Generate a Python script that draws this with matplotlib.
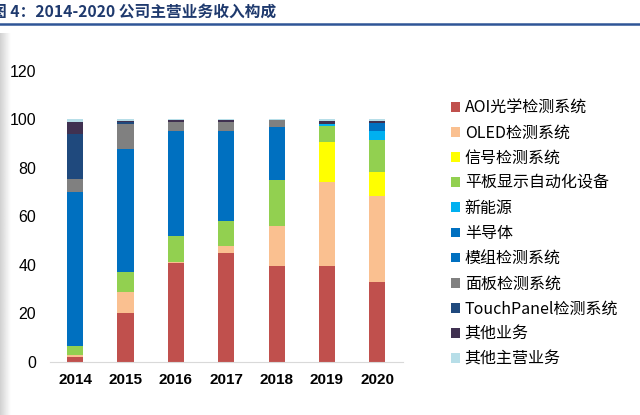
import matplotlib
matplotlib.use("Agg")
import matplotlib.pyplot as plt
import numpy as np

plt.rcParams['font.family'] = ['Noto Sans CJK SC', 'DejaVu Sans']

years = ["2014", "2015", "2016", "2017", "2018", "2019", "2020"]

categories = ["AOI光学检测系统", "OLED检测系统", "信号检测系统", "平板显示自动化设备",
              "新能源", "半导体", "模组检测系统", "面板检测系统",
              "TouchPanel检测系统", "其他业务", "其他主营业务"]

aoi = [2.0, 20.2, 40.7, 45.0, 39.4, 39.4, 32.9]
oled = [1.0, 8.6, 0.5, 2.7, 16.7, 34.8, 35.4]
signal = [0, 0, 0, 0, 0, 16.3, 9.9]
flat_panel = [3.7, 8.1, 10.7, 10.2, 18.9, 6.5, 13.0]
new_energy = [0, 0, 0, 0, 0, 0.8, 3.8]
semi = [0, 0, 0, 0, 0, 0, 3.3]
module = [63.4, 50.9, 43.2, 37.0, 21.7, 0, 0]
panel = [5.4, 10.3, 3.6, 4.1, 2.8, 0, 0]
touch = [18.4, 0.6, 0, 0, 0, 0, 0]
other = [5.0, 0.7, 1.0, 0.7, 0.3, 1.4, 1.0]
other_main = [1.1, 0.6, 0.3, 0.3, 0.2, 0.8, 0.7]

series = [aoi, oled, signal, flat_panel, new_energy, semi, module, panel, touch, other, other_main]
colors = ["#C0504D", "#FAC090", "#FFFF00", "#92D050", "#00B0F0", "#0070C0",
          "#0070C0", "#808080", "#1F497D", "#403151", "#B7DEE8"]

fig = plt.figure(figsize=(6.4, 4.15), dpi=100)

# grey shading on the left edge (behind everything)
edge = fig.add_axes([0, 0, 0.016, 0.92])
edge.imshow(np.linspace(0.82, 1.0, 50).reshape(1, -1), cmap='gray', vmin=0, vmax=1,
            aspect='auto', extent=[0, 1, 0, 1])
edge.axis('off')
edge.set_zorder(-5)

ax = fig.add_axes([0.078, 0.128, 0.551, 0.702])
ax.patch.set_alpha(0)

x = np.arange(len(years))
bottom = np.zeros(len(years))
handles = []
for vals, c, name in zip(series, colors, categories):
    b = ax.bar(x, vals, width=0.32, bottom=bottom, color=c, label=name, linewidth=0)
    handles.append(b)
    bottom += np.array(vals)

ax.set_xlim(-0.5, 6.5)
ax.set_ylim(0, 120)
ax.set_yticks(range(0, 121, 20))
ax.set_xticks(x)
ax.set_xticklabels(years, fontsize=11, fontweight='bold', family=['Liberation Sans', 'DejaVu Sans'])
for lab in ax.get_yticklabels():
    lab.set_fontsize(11.5)
    lab.set_family(['Liberation Sans', 'DejaVu Sans'])
ax.tick_params(axis='x', length=0, pad=8)
ax.tick_params(axis='y', length=0, pad=10)
for s in ['top', 'right', 'left']:
    ax.spines[s].set_visible(False)
ax.spines['bottom'].set_color('#D9D9D9')

fig.legend(handles=handles, labels=categories, loc='upper left',
           bbox_to_anchor=(0.695, 0.776), frameon=False, fontsize=11.5,
           handlelength=0.55, handleheight=0.55, handletextpad=0.3,
           labelspacing=0.51, borderaxespad=0)

# title and rule line
fig.text(-0.014, 0.972, "图 4：2014-2020 公司主营业务收入构成", fontsize=11.3,
         fontweight='bold', color='#1F3A6E', va='center', ha='left')
fig.add_artist(plt.Line2D([0, 1], [0.941, 0.941], color='#2F5597', linewidth=1.8,
                          transform=fig.transFigure))

fig.savefig("out.png", dpi=100)
